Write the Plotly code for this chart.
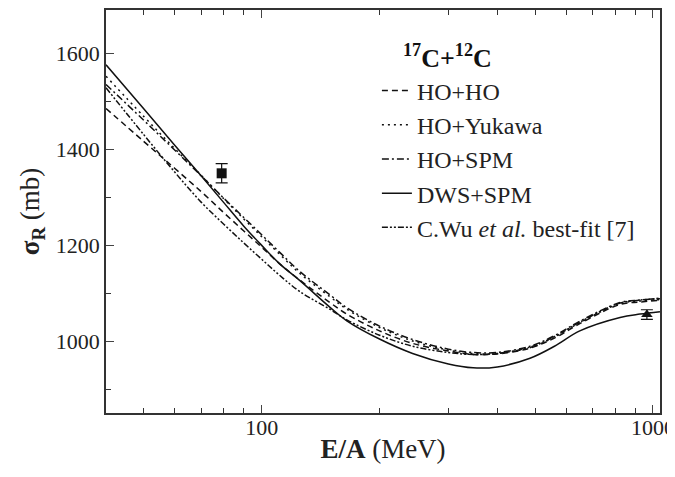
import plotly.graph_objects as go

# energies (MeV/nucleon) at which curves were read
E = [40, 50, 60, 70, 80, 90, 100, 111, 125, 150, 165, 200, 243, 300, 347, 400, 485, 560, 650, 824, 926, 1042]

dws_spm = [1576, 1484, 1408, 1345, 1289, 1240, 1200, 1162, 1127, 1070, 1043, 1005, 975, 953, 945, 947, 965, 990, 1022, 1050, 1057, 1062]
ho_spm = [1535, 1460, 1398, 1345, 1298, 1258, 1222, 1186, 1146, 1096, 1070, 1032, 1004, 984, 977, 977, 990, 1012, 1042, 1081, 1086, 1089]
ho_yukawa = [1552, 1468, 1401, 1346, 1297, 1255, 1218, 1182, 1142, 1092, 1067, 1029, 1001, 982, 975, 975, 987, 1009, 1039, 1079, 1084, 1087]
ho_ho = [1485, 1416, 1360, 1312, 1268, 1230, 1196, 1162, 1128, 1080, 1057, 1022, 996, 980, 973, 974, 986, 1007, 1037, 1077, 1082, 1086]
cwu = [1528, 1430, 1352, 1290, 1244, 1205, 1171, 1138, 1104, 1066, 1045, 1013, 990, 977, 973, 975, 988, 1010, 1040, 1080, 1086, 1090]

# experimental points
exp_E = [79, 965]
exp_sigma = [1350, 1056]
exp_err = [20, 10]
exp_symbols = ["square", "triangle-up"]

names = ["HO+HO", "HO+Yukawa", "HO+SPM", "DWS+SPM", "C.Wu <i>et al.</i> best-fit [7]"]
series = [ho_ho, ho_yukawa, ho_spm, dws_spm, cwu]
dashes = ["6px,4px", "2px,4px", "7px,3px,2px,3px", "solid", "6px,2px,2px,2px,2px,2px"]

fig = go.Figure()
for nm, ys, ds in zip(names, series, dashes):
    fig.add_trace(go.Scatter(x=E, y=ys, mode="lines", name=nm,
                             line=dict(color="#111", width=1.5, dash=ds, shape="spline", smoothing=1.0)))

for i in range(2):
    fig.add_trace(go.Scatter(x=[exp_E[i]], y=[exp_sigma[i]], mode="markers", showlegend=False,
                             marker=dict(symbol=exp_symbols[i], size=10, color="#111"),
                             error_y=dict(type="data", array=[exp_err[i]], color="#111", thickness=1.2, width=6)))

font = "Liberation Serif, Times New Roman, serif"
fig.update_layout(
    width=667, height=469,
    margin=dict(l=98, r=15, t=0, b=64),
    paper_bgcolor="white", plot_bgcolor="white",
    font=dict(family=font, size=20, color="#222"),
    showlegend=True,
    legend=dict(x=0.489, y=0.855, xanchor="left", yanchor="top", bgcolor="rgba(0,0,0,0)",
                font=dict(family=font, size=24, color="#222"), itemwidth=30, tracegroupgap=0),
    annotations=[dict(text="<b><sup>17</sup>C+<sup>12</sup>C</b>", x=0.616, y=0.884, xref="paper", yref="paper",
                      xanchor="center", yanchor="middle",
                      showarrow=False, font=dict(family=font, size=26, color="#111"))],
)
fig.update_xaxes(type="log", range=[1.602, 3.018], tickvals=[100, 1000], ticktext=["100", "1000"],
                 ticks="inside", ticklen=8, tickwidth=1.2, showline=True, linewidth=1.5, linecolor="#333",
                 mirror="allticks", showgrid=False, zeroline=False, ticklabelstandoff=-6,
                 minor=dict(tickvals=[50, 60, 70, 80, 90, 200, 300, 400, 500, 600, 700, 800, 900],
                            ticks="inside", ticklen=5, tickwidth=1, tickcolor="#333", showgrid=False),
                 title=dict(text="<b>E/A</b> (MeV)", font=dict(family=font, size=27), standoff=0),
                 tickfont=dict(family=font, size=22))
fig.update_yaxes(range=[851, 1690], dtick=200, tick0=1000,
                 ticks="inside", ticklen=8, tickwidth=1.2, showline=True, linewidth=1.5, linecolor="#333",
                 mirror=True, showgrid=False, zeroline=False,
                 minor=dict(dtick=100, ticks="inside", ticklen=5, tickwidth=1, tickcolor="#333", showgrid=False),
                 title=dict(text="<b>σ<sub>R</sub></b> (mb)", font=dict(family=font, size=27), standoff=8),
                 tickfont=dict(family=font, size=22))

fig.write_html("out.html")
